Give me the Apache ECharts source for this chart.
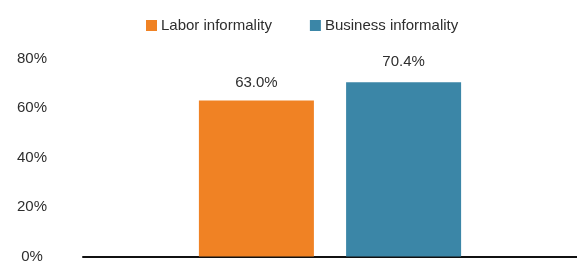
<!DOCTYPE html>
<html><head><meta charset="utf-8">
<script src="https://cdn.jsdelivr.net/npm/echarts@6/dist/echarts.min.js"></script>
<style>html,body{margin:0;padding:0;background:#fff}#c{width:577px;height:264px}</style>
</head><body><div id="c"></div>
<script>
const categories = ['Informality'];
const seriesNames = ['Labor informality', 'Business informality'];
const laborValues = [63.0];
const businessValues = [70.4];
const yTicks = [0, 20, 40, 60, 80];

const chart = echarts.init(document.getElementById('c'), null, {renderer: 'canvas'});
const font = 'Liberation Sans, Arial, Helvetica, sans-serif';
const textColor = '#2e2e2e';
chart.setOption({
  animation: false,
  legend: {
    left: 141, top: 13,
    icon: 'rect', itemWidth: 11, itemHeight: 11, itemGap: 38,
    textStyle: {fontFamily: font, fontSize: 15, color: textColor, padding: [0, 0, 0, -1]},
    data: seriesNames
  },
  grid: {left: 83, right: 0, top: 58.5, bottom: 5.5, containLabel: false},
  xAxis: {
    type: 'category', data: categories,
    axisLine: {lineStyle: {color: '#111', width: 2}},
    axisTick: {show: false}, axisLabel: {show: false}
  },
  yAxis: {
    type: 'value', min: yTicks[0], max: yTicks[yTicks.length - 1], interval: 20,
    splitLine: {show: false}, axisLine: {show: false}, axisTick: {show: false},
    axisLabel: {formatter: '{value}%', align: 'center', margin: 51,
      fontFamily: font, fontSize: 15, color: textColor}
  },
  series: [
    {name: seriesNames[0], type: 'bar', data: laborValues, barWidth: 115, barGap: '28%',
     itemStyle: {color: '#F08224'},
     label: {show: true, position: 'top', distance: 10, formatter: p => p.value.toFixed(1) + '%',
       fontFamily: font, fontSize: 15, color: textColor}},
    {name: seriesNames[1], type: 'bar', data: businessValues, barWidth: 115,
     itemStyle: {color: '#3B86A7'},
     label: {show: true, position: 'top', distance: 13, formatter: p => p.value.toFixed(1) + '%',
       fontFamily: font, fontSize: 15, color: textColor}}
  ]
});
</script></body></html>
